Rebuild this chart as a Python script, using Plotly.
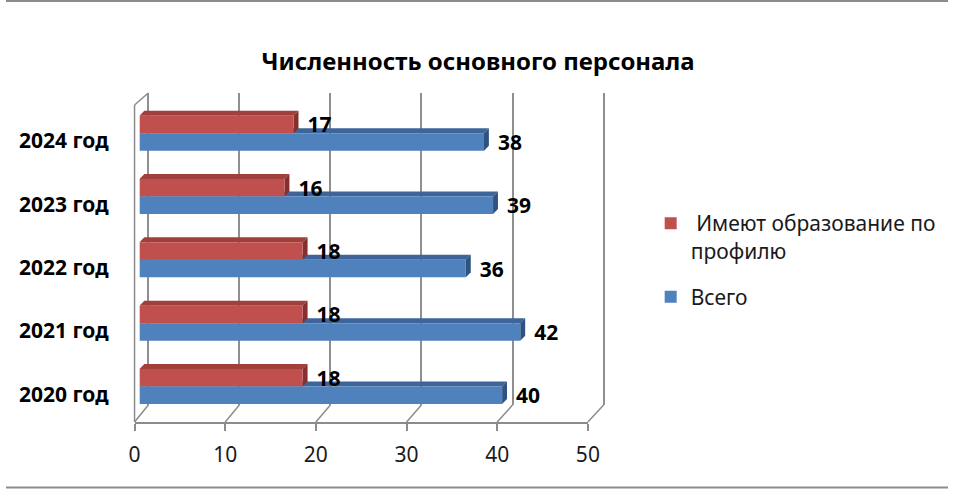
import plotly.graph_objects as go

# данные диаграммы
years = ["2020 год", "2021 год", "2022 год", "2023 год", "2024 год"]
total = [40, 42, 36, 39, 38]
profile = [18, 18, 18, 16, 17]
x_ticks = [0, 10, 20, 30, 40, 50]

W, H = 960, 490
XMAX = 50

# геометрия "3D" рамки в пикселях
BACK = dict(x0=145, x1=609, top=93, bottom=405)
BARS = dict(x0=136, x1=598, top=101.5, bottom=418.2)
FRONT = dict(x0=131, x1=593, top=105, bottom=422)

BLUE, BLUE_TOP, BLUE_SIDE = "#4F81BD", "#3D659A", "#2F5281"
RED, RED_TOP, RED_SIDE = "#C0504D", "#A03F3C", "#86302E"
FRAME = "#8c8c8c"
FONT = "Noto Sans"


def px(x):
    return x / W


def py(y):
    return 1 - y / H


pos = list(range(len(years)))
bw = 0.276
# смещение боковых граней в единицах осей столбцов
dx = 5 / ((BARS["x1"] - BARS["x0"]) / XMAX)
dy = 5 / ((BARS["bottom"] - BARS["top"]) / len(years))

# задняя стенка: диапазон чуть шире, чтобы крайние линии сетки не отсекались
grid_pad = 0.25
back_unit = (BACK["x1"] - BACK["x0"]) / XMAX
back_domain = [px(BACK["x0"] - grid_pad * back_unit), px(BACK["x1"] + grid_pad * back_unit)]

fig = go.Figure()

# пустые трассы, чтобы отрисовались задняя стенка и передняя ось
fig.add_trace(go.Scatter(x=[], y=[], xaxis="x", yaxis="y",
                         showlegend=False, hoverinfo="skip"))
fig.add_trace(go.Scatter(x=[], y=[], xaxis="x3", yaxis="y3",
                         showlegend=False, hoverinfo="skip"))

bar_text = dict(size=21, color="#000000", family=FONT)
fig.add_trace(go.Bar(
    y=pos, x=profile, orientation="h", legendgroup="profile",
    name="\u00a0Имеют образование по<br>профилю",
    marker=dict(color=RED, line=dict(width=0)), width=bw, offset=0,
    xaxis="x2", yaxis="y2",
    texttemplate="\u00a0\u00a0<b>%{x}</b>", textposition="outside",
    constraintext="none", cliponaxis=False, textfont=bar_text,
))
fig.add_trace(go.Bar(
    y=pos, x=total, orientation="h", name="Всего", legendgroup="total",
    marker=dict(color=BLUE, line=dict(width=0)), width=bw, offset=-bw,
    xaxis="x2", yaxis="y2",
    texttemplate="\u00a0\u00a0<b>%{x}</b>", textposition="outside",
    constraintext="none", cliponaxis=False, textfont=bar_text,
))

shapes = []
# верхние и боковые грани столбцов
for vals, y_off, top_c, side_c in [(total, -bw, BLUE_TOP, BLUE_SIDE),
                                   (profile, 0, RED_TOP, RED_SIDE)]:
    for i, v in zip(pos, vals):
        yb = i + y_off
        yt = yb + bw
        shapes.append(dict(
            type="path", xref="x2", yref="y2", layer="between",
            path=f"M 0,{yt} L {v},{yt} L {v + dx},{yt + dy} L {dx},{yt + dy} Z",
            fillcolor=top_c, line=dict(width=0),
        ))
        shapes.append(dict(
            type="path", xref="x2", yref="y2", layer="between",
            path=f"M {v},{yb} L {v},{yt} L {v + dx},{yt + dy} L {v + dx},{yb + dy} Z",
            fillcolor=side_c, line=dict(width=0),
        ))


def line(x0, y0, x1, y1, width=1.5):
    return dict(type="line", xref="paper", yref="paper",
                x0=px(x0), y0=py(y0), x1=px(x1), y1=py(y1),
                line=dict(color=FRAME, width=width))


# левая стенка
shapes.append(line(FRONT["x0"], FRONT["top"], FRONT["x0"], FRONT["bottom"]))
shapes.append(line(FRONT["x0"], FRONT["top"], BACK["x0"], BACK["top"]))
# пол: диагонали от передних делений к задней стенке
for v in x_ticks:
    fx = FRONT["x0"] + v * (FRONT["x1"] - FRONT["x0"]) / XMAX
    bx = BACK["x0"] + v * back_unit
    shapes.append(line(fx, FRONT["bottom"], bx, BACK["bottom"]))
# внешняя рамка
shapes.append(line(0, 1, W, 1, 2))
shapes.append(line(0, 487.5, W, 487.5, 2))

fig.update_layout(
    width=W, height=H,
    margin=dict(l=0, r=0, t=0, b=0),
    paper_bgcolor="white", plot_bgcolor="rgba(0,0,0,0)",
    font=dict(family=FONT, color="#1a1a1a"),
    barmode="group",
    showlegend=True,
    title=dict(text="<b>Численность основного персонала</b>",
               x=px(478), xanchor="center", y=py(62), yanchor="middle",
               font=dict(size=24, color="#000000", family=FONT)),
    legend=dict(x=px(657), y=py(203), xanchor="left", yanchor="top",
                font=dict(size=21, color="#1a1a1a", family=FONT),
                valign="top", traceorder="grouped", tracegroupgap=16,
                bgcolor="rgba(0,0,0,0)"),
    xaxis=dict(domain=back_domain, range=[-grid_pad, XMAX + grid_pad],
               tickvals=x_ticks, showgrid=True, gridcolor="#8f8f8f", gridwidth=2,
               showticklabels=False, ticks="", zeroline=False, showline=False,
               anchor="y", fixedrange=True),
    yaxis=dict(domain=[py(BACK["bottom"]), py(BACK["top"])], range=[0, 1],
               showgrid=False, showticklabels=False, ticks="", zeroline=False,
               showline=False, anchor="x", fixedrange=True),
    # столбцы
    xaxis2=dict(domain=[px(BARS["x0"]), px(BARS["x1"])], range=[0, XMAX],
                visible=False, anchor="y2", fixedrange=True),
    yaxis2=dict(domain=[py(BARS["bottom"]), py(BARS["top"])],
                range=[-0.5, len(years) - 0.5],
                visible=False, anchor="x2", fixedrange=True),
    # передняя ось и подписи категорий
    xaxis3=dict(domain=[px(FRONT["x0"]), px(FRONT["x1"])], range=[0, XMAX],
                tickvals=x_ticks, showline=True, linecolor=FRAME, linewidth=1.5,
                ticks="outside", ticklen=7, tickcolor=FRAME, tickwidth=1.5,
                showgrid=False, zeroline=False, anchor="y3",
                tickfont=dict(size=21, color="#1a1a1a", family=FONT),
                ticklabelstandoff=6, fixedrange=True),
    yaxis3=dict(domain=[py(FRONT["bottom"]), py(FRONT["bottom"] - (BARS["bottom"] - BARS["top"]))],
                range=[-0.5, len(years) - 0.5],
                tickvals=pos, ticktext=[f"<b>{y}</b>" for y in years],
                anchor="free", position=px(FRONT["x0"]),
                showline=False, showgrid=False, zeroline=False, ticks="",
                tickfont=dict(size=21, color="#000000", family=FONT),
                ticklabelstandoff=26, ticklabelshift=4, fixedrange=True),
    shapes=shapes,
)

# у страницы убираем отступ body, чтобы рисунок лёг ровно в окно 960x490
fig.write_html("out.html", config={"displayModeBar": False},
               post_script="document.body.style.margin='0';")
